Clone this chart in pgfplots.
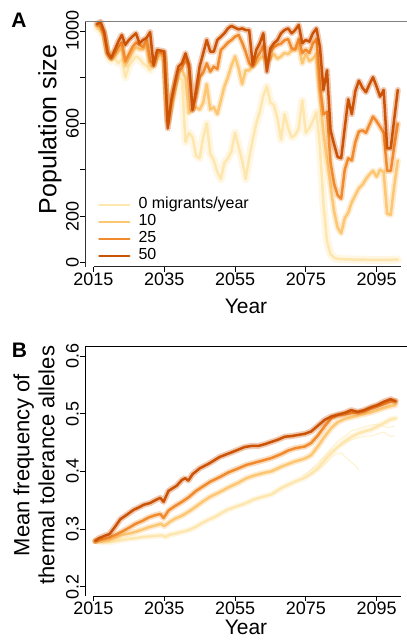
\documentclass[border=0pt]{standalone}
\usepackage{pgfplots}
\pgfplotsset{compat=1.18}
\usepackage{pgfplotstable}
\usepackage{fontspec}
\setmainfont{Liberation Sans}

\definecolor{c0}{HTML}{FEE7AE}
\definecolor{c10}{HTML}{FDC672}
\definecolor{c25}{HTML}{F08A2C}
\definecolor{c50}{HTML}{CC5206}

\pgfplotstableread{
year m0 m10 m25 m50
2016 1010 1020 1030 1030
2017 1000 1010 1020 1040
2018 970 985 990 997
2019 890 905 910 903
2020 870 880 885 882
2021 880 890 905 918
2022 860 910 930 954
2023 880 930 950 983
2024 800 850 870 940
2025 850 880 900 961
2026 870 910 930 976
2027 890 930 950 990
2028 880 920 940 947
2029 860 920 930 961
2030 850 940 960 970
2031 830 850 870 995
2032 850 850 860 850
2033 880 890 905 918
2034 880 895 905 915
2035 870 890 900 912
2036 620 610 600 579
2037 680 680 690 702
2038 740 760 770 774
2039 800 820 830 846
2040 790 830 840 860
2041 520 800 880 903
2042 560 645 840 853
2043 540 665 660 658
2044 460 670 720 745
2045 450 660 800 846
2046 540 690 820 903
2047 600 770 860 961
2048 470 660 824 911
2049 440 670 846 911
2050 390 640 835 961
2051 360 700 918 975
2052 430 760 933 990
2053 450 800 950 1011
2054 480 850 961 1022
2055 560 890 975 1014
2056 500 840 983 1007
2057 440 770 950 1011
2058 360 830 910 1004
2059 450 830 860 1004
2060 530 850 846 853
2061 600 860 880 918
2062 650 880 905 947
2063 720 890 935 990
2064 760 870 860 824
2065 690 880 910 925
2066 680 900 930 947
2067 620 880 940 961
2068 530 890 945 990
2069 640 905 960 1004
2070 580 900 965 1011
2071 540 915 925 990
2072 550 920 920 1004
2073 580 935 965 1026
2074 700 860 905 947
2075 560 900 920 961
2076 580 870 905 954
2077 610 880 945 990
2078 650 900 965 1011
2079 500 720 760 930
2080 250 560 640 745
2081 90 440 650 830
2082 35 330 430 570
2083 20 220 340 510
2084 15 150 290 455
2085 14 125 275 450
2086 13 190 400 580
2087 13 215 450 705
2088 12 260 440 640
2089 12 290 520 740
2090 12 320 565 785
2091 12 335 570 755
2092 11 360 560 735
2093 11 380 595 770
2094 11 395 630 800
2095 10 370 610 760
2096 10 400 586 716
2097 10 390 560 745
2098 10 210 395 493
2099 10 205 395 493
2100 12 330 500 620
2101 12 440 600 745
}\tabA

\pgfplotstableread{
year v
2015.5 0.279
2016.5 0.284
2018.5 0.289
2019.5 0.291
2021.0 0.303
2022.6 0.317
2024.5 0.325
2026.3 0.333
2028.0 0.338
2029.2 0.342
2031.0 0.345
2032.5 0.350
2033.9 0.354
2034.8 0.347
2036.2 0.366
2038.5 0.375
2040.0 0.385
2040.9 0.388
2041.8 0.384
2043.0 0.395
2045.0 0.405
2047.8 0.414
2050.7 0.425
2054.5 0.434
2057.7 0.442
2059.7 0.444
2061.6 0.444
2063.4 0.447
2065.3 0.451
2067.2 0.455
2069.1 0.460
2070.9 0.461
2072.8 0.463
2074.7 0.465
2076.5 0.469
2078.4 0.479
2080.3 0.489
2082.2 0.495
2084.0 0.498
2085.9 0.501
2087.8 0.506
2089.7 0.503
2091.5 0.506
2093.4 0.511
2095.3 0.515
2097.2 0.521
2099.0 0.525
2100.4 0.521
}\tabBfifty

\pgfplotstableread{
year v
2015.5 0.279
2017.5 0.282
2019.4 0.285
2021.3 0.290
2023.2 0.296
2025.0 0.302
2026.9 0.309
2028.8 0.314
2030.6 0.320
2032.5 0.324
2033.9 0.326
2034.8 0.319
2036.2 0.332
2038.1 0.340
2040.0 0.347
2041.9 0.355
2044.0 0.366
2046.0 0.374
2048.0 0.382
2050.7 0.390
2053.1 0.398
2055.9 0.405
2058.2 0.411
2060.6 0.415
2063.0 0.419
2065.3 0.423
2068.1 0.430
2070.0 0.436
2072.0 0.440
2074.7 0.443
2076.5 0.449
2078.4 0.462
2080.3 0.478
2082.2 0.492
2084.0 0.497
2086.0 0.499
2088.0 0.501
2090.0 0.502
2091.5 0.504
2093.4 0.509
2095.3 0.513
2097.2 0.517
2099.0 0.521
2100.4 0.522
}\tabBtwentyfive

\pgfplotstableread{
year v
2015.5 0.279
2017.5 0.279
2019.4 0.281
2021.3 0.285
2023.2 0.290
2025.0 0.292
2026.9 0.295
2028.8 0.299
2030.6 0.303
2032.5 0.306
2034.0 0.309
2035.0 0.305
2036.5 0.312
2038.1 0.318
2040.0 0.323
2041.9 0.330
2044.0 0.339
2046.0 0.348
2048.0 0.356
2050.7 0.364
2053.1 0.372
2055.9 0.380
2058.2 0.388
2060.6 0.393
2063.0 0.397
2065.3 0.400
2068.1 0.408
2071.9 0.417
2074.7 0.422
2076.5 0.428
2078.4 0.443
2080.3 0.460
2082.2 0.475
2084.0 0.485
2086.0 0.491
2088.0 0.494
2090.0 0.497
2092.0 0.500
2093.4 0.502
2095.3 0.506
2097.2 0.510
2099.0 0.513
2100.4 0.515
}\tabBten

\pgfplotstableread{
year v
2015.5 0.279
2017.5 0.277
2019.4 0.277
2021.3 0.279
2023.2 0.281
2025.0 0.283
2026.9 0.284
2028.8 0.286
2030.6 0.287
2032.5 0.288
2034.4 0.289
2035.3 0.286
2036.5 0.290
2038.1 0.292
2040.0 0.295
2041.9 0.298
2044.0 0.304
2045.6 0.310
2047.5 0.316
2049.4 0.321
2051.3 0.328
2053.1 0.334
2055.9 0.340
2058.2 0.345
2060.6 0.352
2063.0 0.356
2065.3 0.360
2068.1 0.371
2071.9 0.382
2074.7 0.389
2076.5 0.396
2078.4 0.405
2081.2 0.425
2084.0 0.442
2086.0 0.452
2088.0 0.460
2090.0 0.466
2092.0 0.470
2093.4 0.472
2095.3 0.478
2097.2 0.484
2099.0 0.490
2100.4 0.492
}\tabBzero

\pgfplotsset{
  refstyle/.style={
    scale only axis, width=322bp,
    xmin=2012.6, xmax=2103.6,
    axis line style={draw=none},
    clip=false,
    xtick={2015,2035,2055,2075,2095},
    xticklabels={2015,2035,2055,2075,2095},
    tick align=outside, xtick pos=bottom, ytick pos=left,
    major tick length=5bp,
    every tick/.style={black, line width=0.8bp},
    /pgf/number format/assume math mode=true,
    xticklabel style={font=\fontsize{18bp}{20bp}\selectfont, inner sep=1bp},
    yticklabel style={font=\fontsize{18bp}{20bp}\selectfont, rotate=90, anchor=south, inner sep=1bp},
    every axis plot/.append style={line join=round, line cap=round},
  }
}

\begin{document}
\begin{tikzpicture}
\path[use as bounding box] (0,0) rectangle (407bp,-641bp);

% Panel A
\begin{axis}[refstyle,
  at={(85bp,-21.7bp)}, anchor=north west, height=245bp,
  ymin=-19, ymax=1040,
  ytick={0,200,400,600,800,1000}, yticklabels={0,200,,600,,1000},
  xlabel={Year}, ylabel={Population size},
  xlabel style={font=\fontsize{21bp}{24bp}\selectfont, at={(rel axis cs:0.5,-0.189)}, anchor=base},
  ylabel style={font=\fontsize{25bp}{28bp}\selectfont, at={(rel axis cs:-0.109,0.56)}, anchor=center},
  legend style={at={(rel axis cs:0.04,0.287)}, anchor=north west, draw=none, fill=none,
    font=\fontsize{16bp}{17bp}\selectfont, row sep=0bp, column sep=8bp, inner sep=0pt,
    nodes={inner sep=0pt, text height=12bp, text depth=5bp}},
  legend cell align=left,
  legend image code/.code={\draw[#1, line width=2.5bp] (0bp,0bp) -- (30bp,0bp);},
]
\addplot[c0, line width=8bp, opacity=0.35, forget plot] table[x=year,y=m0]{\tabA};
\addplot[c0, line width=2.5bp] table[x=year,y=m0]{\tabA};
\addplot[c10, line width=6bp, opacity=0.35, forget plot] table[x=year,y=m10]{\tabA};
\addplot[c10, line width=2.5bp] table[x=year,y=m10]{\tabA};
\addplot[c25, line width=6bp, opacity=0.3, forget plot] table[x=year,y=m25]{\tabA};
\addplot[c25, line width=2.5bp] table[x=year,y=m25]{\tabA};
\addplot[c50, line width=6bp, opacity=0.3, forget plot] table[x=year,y=m50]{\tabA};
\addplot[c50, line width=2.5bp] table[x=year,y=m50]{\tabA};
\legend{0 migrants/year, 10, 25, 50}
\draw[black!80, line width=0.8bp] (rel axis cs:0,0) -- (rel axis cs:0,1);
\draw[black!50, line width=0.8bp] (rel axis cs:0,1) -- (rel axis cs:1,1);
\draw[black!85, line width=0.8bp] (rel axis cs:0.0264,0) -- (rel axis cs:0.98,0);
\end{axis}

% Panel B
\begin{axis}[refstyle,
  at={(85bp,-346.7bp)}, anchor=north west, height=249.3bp,
  ymin=0.1838, ymax=0.616,
  ytick={0.2,0.3,0.4,0.5,0.6}, yticklabels={0.2,0.3,0.4,0.5,0.6},
  xlabel={Year}, ylabel={Mean frequency of\\thermal tolerance alleles},
  xlabel style={font=\fontsize{21bp}{24bp}\selectfont, at={(rel axis cs:0.5,-0.156)}, anchor=base},
  ylabel style={font=\fontsize{22bp}{25bp}\selectfont, align=center, at={(rel axis cs:-0.158,0.525)}, anchor=center},
]
\addplot[c0, line width=1bp, opacity=0.6] coordinates {(2074,0.386) (2077,0.396) (2080,0.410) (2083,0.428) (2085,0.432) (2087,0.420) (2089,0.410) (2090,0.402)};
\addplot[c0, line width=1bp, opacity=0.6] coordinates {(2074,0.392) (2078,0.408) (2082,0.435) (2085,0.445) (2088,0.455) (2091,0.460) (2094,0.462) (2097,0.468) (2099,0.460) (2100,0.462)};
\addplot[c0, line width=1bp, opacity=0.6] coordinates {(2076,0.400) (2080,0.425) (2084,0.452) (2088,0.470) (2092,0.478) (2095,0.482) (2098,0.476) (2100,0.478)};
\addplot[c0, line width=6bp, opacity=0.35] table[x=year,y=v]{\tabBzero};
\addplot[c0, line width=2.5bp] table[x=year,y=v]{\tabBzero};
\addplot[c10, line width=6bp, opacity=0.35] table[x=year,y=v]{\tabBten};
\addplot[c10, line width=2.5bp] table[x=year,y=v]{\tabBten};
\addplot[c25, line width=6bp, opacity=0.3] table[x=year,y=v]{\tabBtwentyfive};
\addplot[c25, line width=2.5bp] table[x=year,y=v]{\tabBtwentyfive};
\addplot[c50, line width=6bp, opacity=0.3] table[x=year,y=v]{\tabBfifty};
\addplot[c50, line width=2.5bp] table[x=year,y=v]{\tabBfifty};
\draw[black, line width=0.8bp] (rel axis cs:0,0) -- (rel axis cs:0,1) -- (rel axis cs:1,1);
\draw[black, line width=0.8bp] (rel axis cs:0.0264,0) -- (rel axis cs:0.98,0);
\end{axis}

\node[font=\bfseries\fontsize{21bp}{24bp}\selectfont] at (19bp,-20bp) {A};
\node[font=\bfseries\fontsize{21bp}{24bp}\selectfont] at (19.5bp,-350bp) {B};
\end{tikzpicture}
\end{document}
